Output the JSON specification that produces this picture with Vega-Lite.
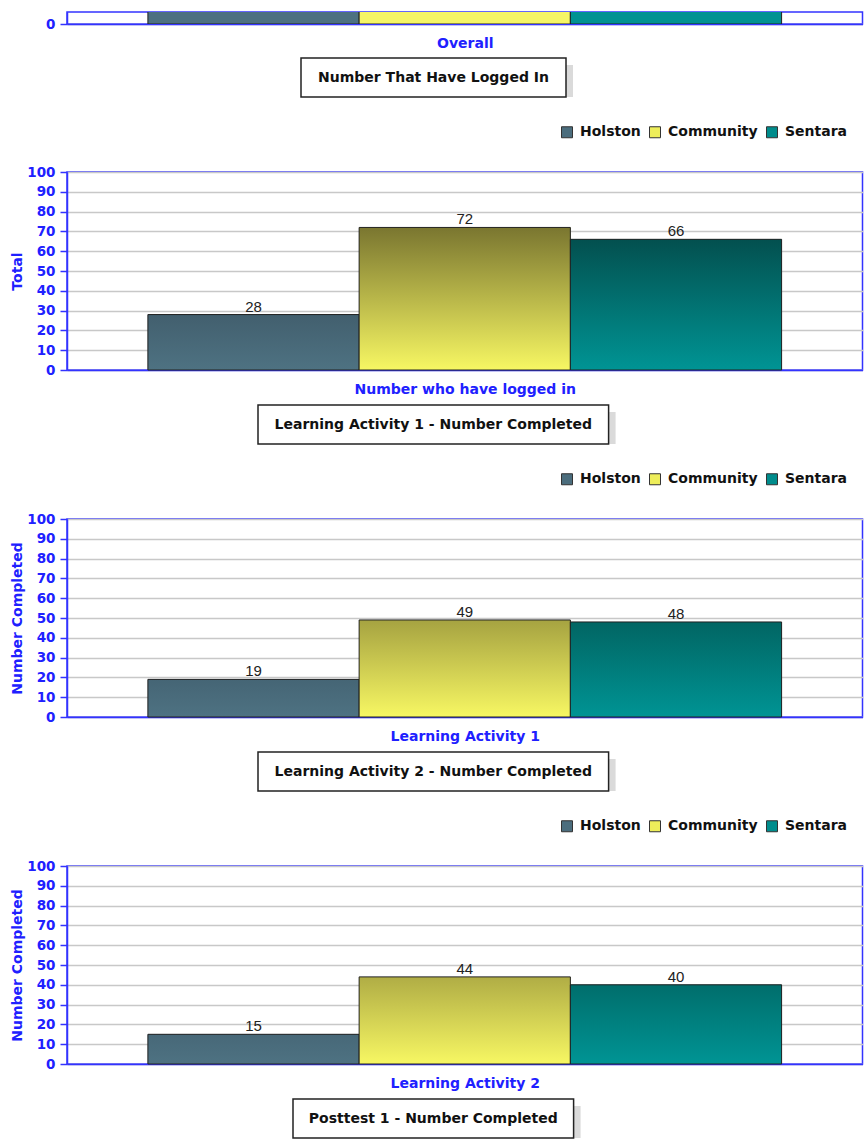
{
  "$schema": "https://vega.github.io/schema/vega-lite/v6.json",
  "background": "white",
  "padding": {"left": 7, "top": 11, "right": 5, "bottom": 0},
  "spacing": 0,
  "resolve": {"scale": {"fill": "independent", "x": "independent", "y": "independent"}, "legend": {"fill": "independent"}},
  "config": {
    "view": {"stroke": null},
    "font": "DejaVu Sans",
    "axis": {
      "labelFont": "DejaVu Sans", "titleFont": "DejaVu Sans",
      "labelColor": "#2020ff", "titleColor": "#2020ff",
      "labelFontWeight": "bold", "titleFontWeight": "bold",
      "labelFontSize": 13.5, "titleFontSize": 14,
      "domainColor": "#3333ff", "domainWidth": 1.5,
      "tickColor": "#3333ff", "tickWidth": 1.5, "tickSize": 7,
      "gridColor": "#c8c8c8", "gridWidth": 1.5
    },
    "axisX": {"labels": false, "ticks": false, "grid": false, "titlePadding": 12.5},
    "axisY": {"labelPadding": 5, "titlePadding": 2, "grid": true},
    "legend": {
      "orient": "none", "direction": "horizontal", "title": null,
      "symbolType": "square", "symbolSize": 121, "symbolStrokeColor": "#333333", "symbolStrokeWidth": 1,
      "labelFont": "DejaVu Sans", "labelFontSize": 14, "labelFontWeight": "bold", "labelColor": "#111111",
      "labelOffset": 6, "columnPadding": 6
    }
  },
  "vconcat": [
    {"bounds": "flush", "spacing": 0, "hconcat": [
      {"width": 60, "height": 44.5, "data": {"values": [{}]}, "mark": {"type": "text", "text": ""}},
      {
        "width": 795.5, "height": 12,
        "view": {"stroke": "#3333ff", "strokeWidth": 1.5},
        "data": {"values": [
          {"series": "Holston", "value": 30},
          {"series": "Community", "value": 75},
          {"series": "Sentara", "value": 70}
        ]},
        "mark": {"type": "bar", "clip": true, "stroke": "#222222", "strokeWidth": 1},
        "encoding": {
          "x": {"field": "series", "type": "nominal", "scale": {"domain": ["Holston", "Community", "Sentara"], "paddingInner": 0, "paddingOuter": 0.383}, "axis": {"title": "Overall"}},
          "y": {"field": "value", "type": "quantitative", "scale": {"domain": [0, 6]}, "axis": {"title": null, "values": [0]}},
          "fill": {"field": "series", "type": "nominal", "scale": {"domain": ["Holston", "Community", "Sentara"], "range": ["#4d7181", "#f5f566", "#009292"]}, "legend": null}
        }
      }
    ]},
    {"bounds": "flush", "spacing": 0, "hconcat": [
      {"width": 293.5, "height": 66.4, "data": {"values": [{}]}, "mark": {"type": "text", "text": ""}},
      {
        "width": 265, "height": 39,
        "data": {"values": [{"title": "Number That Have Logged In"}]},
        "layer": [
          {"mark": {"type": "rect", "fill": "#dadada", "xOffset": 7, "x2Offset": 7, "yOffset": 7, "y2Offset": 7}, "encoding": {}},
          {"mark": {"type": "rect", "fill": "white", "stroke": "#222222", "strokeWidth": 1.5}, "encoding": {}},
          {"mark": {"type": "text", "font": "DejaVu Sans", "fontSize": 14, "fontWeight": "bold", "color": "#111111"}, "encoding": {"text": {"field": "title"}}}
        ]
      }
    ]},
    {"bounds": "flush", "spacing": 0, "hconcat": [
      {"width": 60, "height": 231.25, "data": {"values": [{}]}, "mark": {"type": "text", "text": ""}},
      {
        "width": 795.5, "height": 198,
        "view": {"stroke": "#3333ff", "strokeWidth": 1.5},
        "data": {"values": [
          {"series": "Holston", "value": 28},
          {"series": "Community", "value": 72},
          {"series": "Sentara", "value": 66}
        ]},
        "encoding": {
          "x": {"field": "series", "type": "nominal", "scale": {"domain": ["Holston", "Community", "Sentara"], "paddingInner": 0, "paddingOuter": 0.383}, "axis": {"title": "Number who have logged in"}},
          "y": {"field": "value", "type": "quantitative", "scale": {"domain": [0, 100]}, "axis": {"title": "Total", "values": [0, 10, 20, 30, 40, 50, 60, 70, 80, 90, 100]}}
        },
        "layer": [
          {"mark": {"type": "bar"}, "encoding": {"fill": {"field": "series", "type": "nominal", "scale": {"domain": ["Holston", "Community", "Sentara"], "range": ["#4b6d7d", "#eeee5a", "#008c8c"]}, "legend": {"legendX": 553, "legendY": -47}}}},
          {"mark": {"type": "bar", "stroke": "#222222", "strokeWidth": 1}, "encoding": {"fill": {
            "condition": [
              {"test": "datum.series === 'Holston'", "value": {"gradient": "linear", "x1": 0, "y1": 0, "x2": 0, "y2": 1, "stops": [{"offset": 0, "color": "#425f6e"}, {"offset": 1, "color": "#4e7282"}]}},
              {"test": "datum.series === 'Community'", "value": {"gradient": "linear", "x1": 0, "y1": 0, "x2": 0, "y2": 1, "stops": [{"offset": 0, "color": "#7a7630"}, {"offset": 1, "color": "#f7f763"}]}}
            ],
            "value": {"gradient": "linear", "x1": 0, "y1": 0, "x2": 0, "y2": 1, "stops": [{"offset": 0, "color": "#03504f"}, {"offset": 1, "color": "#009494"}]}
          }}},
          {"mark": {"type": "text", "dy": -3, "baseline": "alphabetic", "font": "Liberation Sans", "fontSize": 15, "color": "#222222"}, "encoding": {"text": {"field": "value", "type": "quantitative"}}}
        ]
      }
    ]},
    {"bounds": "flush", "spacing": 0, "hconcat": [
      {"width": 250.7, "height": 66.4, "data": {"values": [{}]}, "mark": {"type": "text", "text": ""}},
      {
        "width": 350.6, "height": 39,
        "data": {"values": [{"title": "Learning Activity 1 - Number Completed"}]},
        "layer": [
          {"mark": {"type": "rect", "fill": "#dadada", "xOffset": 7, "x2Offset": 7, "yOffset": 7, "y2Offset": 7}, "encoding": {}},
          {"mark": {"type": "rect", "fill": "white", "stroke": "#222222", "strokeWidth": 1.5}, "encoding": {}},
          {"mark": {"type": "text", "font": "DejaVu Sans", "fontSize": 14, "fontWeight": "bold", "color": "#111111"}, "encoding": {"text": {"field": "title"}}}
        ]
      }
    ]},
    {"bounds": "flush", "spacing": 0, "hconcat": [
      {"width": 60, "height": 231.25, "data": {"values": [{}]}, "mark": {"type": "text", "text": ""}},
      {
        "width": 795.5, "height": 198,
        "view": {"stroke": "#3333ff", "strokeWidth": 1.5},
        "data": {"values": [
          {"series": "Holston", "value": 19},
          {"series": "Community", "value": 49},
          {"series": "Sentara", "value": 48}
        ]},
        "encoding": {
          "x": {"field": "series", "type": "nominal", "scale": {"domain": ["Holston", "Community", "Sentara"], "paddingInner": 0, "paddingOuter": 0.383}, "axis": {"title": "Learning Activity 1"}},
          "y": {"field": "value", "type": "quantitative", "scale": {"domain": [0, 100]}, "axis": {"title": "Number Completed", "values": [0, 10, 20, 30, 40, 50, 60, 70, 80, 90, 100]}}
        },
        "layer": [
          {"mark": {"type": "bar"}, "encoding": {"fill": {"field": "series", "type": "nominal", "scale": {"domain": ["Holston", "Community", "Sentara"], "range": ["#4b6d7d", "#eeee5a", "#008c8c"]}, "legend": {"legendX": 553, "legendY": -47}}}},
          {"mark": {"type": "bar", "stroke": "#222222", "strokeWidth": 1}, "encoding": {"fill": {
            "condition": [
              {"test": "datum.series === 'Holston'", "value": {"gradient": "linear", "x1": 0, "y1": 0, "x2": 0, "y2": 1, "stops": [{"offset": 0, "color": "#456575"}, {"offset": 1, "color": "#4e7282"}]}},
              {"test": "datum.series === 'Community'", "value": {"gradient": "linear", "x1": 0, "y1": 0, "x2": 0, "y2": 1, "stops": [{"offset": 0, "color": "#a6a341"}, {"offset": 1, "color": "#f7f763"}]}}
            ],
            "value": {"gradient": "linear", "x1": 0, "y1": 0, "x2": 0, "y2": 1, "stops": [{"offset": 0, "color": "#016563"}, {"offset": 1, "color": "#009494"}]}
          }}},
          {"mark": {"type": "text", "dy": -3, "baseline": "alphabetic", "font": "Liberation Sans", "fontSize": 15, "color": "#222222"}, "encoding": {"text": {"field": "value", "type": "quantitative"}}}
        ]
      }
    ]},
    {"bounds": "flush", "spacing": 0, "hconcat": [
      {"width": 250.7, "height": 66.4, "data": {"values": [{}]}, "mark": {"type": "text", "text": ""}},
      {
        "width": 350.6, "height": 39,
        "data": {"values": [{"title": "Learning Activity 2 - Number Completed"}]},
        "layer": [
          {"mark": {"type": "rect", "fill": "#dadada", "xOffset": 7, "x2Offset": 7, "yOffset": 7, "y2Offset": 7}, "encoding": {}},
          {"mark": {"type": "rect", "fill": "white", "stroke": "#222222", "strokeWidth": 1.5}, "encoding": {}},
          {"mark": {"type": "text", "font": "DejaVu Sans", "fontSize": 14, "fontWeight": "bold", "color": "#111111"}, "encoding": {"text": {"field": "title"}}}
        ]
      }
    ]},
    {"bounds": "flush", "spacing": 0, "hconcat": [
      {"width": 60, "height": 231.25, "data": {"values": [{}]}, "mark": {"type": "text", "text": ""}},
      {
        "width": 795.5, "height": 198,
        "view": {"stroke": "#3333ff", "strokeWidth": 1.5},
        "data": {"values": [
          {"series": "Holston", "value": 15},
          {"series": "Community", "value": 44},
          {"series": "Sentara", "value": 40}
        ]},
        "encoding": {
          "x": {"field": "series", "type": "nominal", "scale": {"domain": ["Holston", "Community", "Sentara"], "paddingInner": 0, "paddingOuter": 0.383}, "axis": {"title": "Learning Activity 2"}},
          "y": {"field": "value", "type": "quantitative", "scale": {"domain": [0, 100]}, "axis": {"title": "Number Completed", "values": [0, 10, 20, 30, 40, 50, 60, 70, 80, 90, 100]}}
        },
        "layer": [
          {"mark": {"type": "bar"}, "encoding": {"fill": {"field": "series", "type": "nominal", "scale": {"domain": ["Holston", "Community", "Sentara"], "range": ["#4b6d7d", "#eeee5a", "#008c8c"]}, "legend": {"legendX": 553, "legendY": -47}}}},
          {"mark": {"type": "bar", "stroke": "#222222", "strokeWidth": 1}, "encoding": {"fill": {
            "condition": [
              {"test": "datum.series === 'Holston'", "value": {"gradient": "linear", "x1": 0, "y1": 0, "x2": 0, "y2": 1, "stops": [{"offset": 0, "color": "#476878"}, {"offset": 1, "color": "#4e7282"}]}},
              {"test": "datum.series === 'Community'", "value": {"gradient": "linear", "x1": 0, "y1": 0, "x2": 0, "y2": 1, "stops": [{"offset": 0, "color": "#b0ad45"}, {"offset": 1, "color": "#f7f763"}]}}
            ],
            "value": {"gradient": "linear", "x1": 0, "y1": 0, "x2": 0, "y2": 1, "stops": [{"offset": 0, "color": "#006e6c"}, {"offset": 1, "color": "#009494"}]}
          }}},
          {"mark": {"type": "text", "dy": -3, "baseline": "alphabetic", "font": "Liberation Sans", "fontSize": 15, "color": "#222222"}, "encoding": {"text": {"field": "value", "type": "quantitative"}}}
        ]
      }
    ]},
    {"bounds": "flush", "spacing": 0, "hconcat": [
      {"width": 285.7, "height": 46, "data": {"values": [{}]}, "mark": {"type": "text", "text": ""}},
      {
        "width": 280.6, "height": 39,
        "data": {"values": [{"title": "Posttest 1 - Number Completed"}]},
        "layer": [
          {"mark": {"type": "rect", "fill": "#dadada", "xOffset": 7, "x2Offset": 7, "yOffset": 7, "y2Offset": 7}, "encoding": {}},
          {"mark": {"type": "rect", "fill": "white", "stroke": "#222222", "strokeWidth": 1.5}, "encoding": {}},
          {"mark": {"type": "text", "font": "DejaVu Sans", "fontSize": 14, "fontWeight": "bold", "color": "#111111"}, "encoding": {"text": {"field": "title"}}}
        ]
      }
    ]}
  ]
}
